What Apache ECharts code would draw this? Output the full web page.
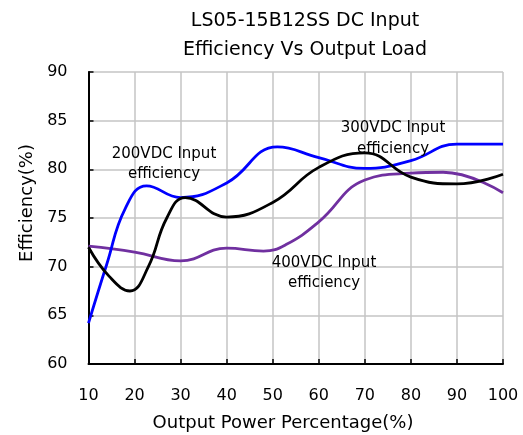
<!DOCTYPE html>
<html>
<head>
<meta charset="utf-8">
<script src="https://cdn.jsdelivr.net/npm/echarts@6/dist/echarts.min.js"></script>
<style>html,body{margin:0;padding:0;background:#fff}#c{width:523px;height:435px}</style>
</head>
<body>
<div id="c"></div>
<script>
// Output power percentage (x) and efficiency (%) values
const x200 = [10, 14, 18, 22.6, 30, 40, 51, 60, 70, 80, 90, 100];
const eff200 = [64.2, 70.3, 76.0, 78.3, 77.1, 78.6, 82.3, 81.2, 80.1, 80.9, 82.6, 82.6];

const x300 = [10, 14.5, 19, 23, 27, 31, 40, 50, 60, 70, 80, 90, 100];
const eff300 = [72.0, 69.0, 67.5, 70.0, 75.0, 77.1, 75.1, 76.6, 80.2, 81.7, 79.2, 78.5, 79.5];

const x400 = [10, 20, 30, 40, 48, 53, 60, 70, 80, 87, 100];
const eff400 = [72.1, 71.5, 70.6, 71.9, 71.6, 72.3, 74.6, 78.9, 79.6, 79.7, 77.6];

const xTicks = [10, 20, 30, 40, 50, 60, 70, 80, 90, 100];
const yTicks = [60, 65, 70, 75, 80, 85, 90];

const titleLines = ['LS05-15B12SS DC Input', 'Efficiency Vs Output Load'];
const xName = 'Output Power Percentage(%)';
const yName = 'Efficiency(%)';
const seriesNames = ['200VDC Input efficiency', '300VDC Input efficiency', '400VDC Input efficiency'];

const F = 'DejaVu Sans';
const pair = (xs, ys) => xs.map((v, i) => [v, ys[i]]);

const chart = echarts.init(document.getElementById('c'));
chart.setOption({
  animation: false,
  backgroundColor: '#fff',
  title: {
    text: titleLines.join('\n'),
    left: 300, top: 2, textAlign: 'center',
    textStyle: { fontFamily: F, fontSize: 19, fontWeight: 'normal', color: '#000', lineHeight: 29 }
  },
  grid: { left: 88.5, right: 20, top: 72, bottom: 71 },
  xAxis: {
    type: 'value', min: xTicks[0], max: xTicks[xTicks.length - 1], interval: 10,
    axisLine: { lineStyle: { color: '#000', width: 2 } },
    axisTick: { inside: true, length: 5, lineStyle: { color: '#000', width: 1.5 } },
    axisLabel: { margin: 24, fontFamily: F, fontSize: 16, color: '#000' },
    splitLine: { show: true, lineStyle: { color: '#c4c4c4', width: 1.5 } }
  },
  yAxis: {
    type: 'value', min: yTicks[0], max: yTicks[yTicks.length - 1], interval: 5,
    axisLine: { show: true, lineStyle: { color: '#000', width: 2 } },
    axisTick: { show: true, inside: true, length: 5, lineStyle: { color: '#000', width: 1.5 } },
    axisLabel: { margin: 21, fontFamily: F, fontSize: 16, color: '#000' },
    splitLine: { show: true, lineStyle: { color: '#c4c4c4', width: 1.5 } }
  },
  series: [
    { name: seriesNames[0], type: 'line', data: pair(x200, eff200), smooth: 0.45, symbol: 'none',
      lineStyle: { color: '#0000ff', width: 2.8 }, z: 3 },
    { name: seriesNames[1], type: 'line', data: pair(x300, eff300), smooth: 0.45, symbol: 'none',
      lineStyle: { color: '#000000', width: 2.8 }, z: 4 },
    { name: seriesNames[2], type: 'line', data: pair(x400, eff400), smooth: 0.45, symbol: 'none',
      lineStyle: { color: '#7030a0', width: 2.8 }, z: 2 }
  ],
  graphic: [
    { type: 'text', x: 283, y: 423, style: { text: xName, font: '18px "DejaVu Sans"', fill: '#000', align: 'center', verticalAlign: 'middle' } },
    { type: 'text', x: 27, y: 203, rotation: Math.PI / 2, style: { text: yName, font: '18px "DejaVu Sans"', fill: '#000', align: 'center', verticalAlign: 'middle' } },
    { type: 'text', x: 164, y: 164, z: 10, style: { text: '200VDC Input\nefficiency', font: '15px "DejaVu Sans"', lineHeight: 20, fill: '#000', align: 'center', verticalAlign: 'middle' } },
    { type: 'text', x: 393, y: 139, z: 10, style: { text: '300VDC Input\nefficiency', font: '15px "DejaVu Sans"', lineHeight: 21, fill: '#000', align: 'center', verticalAlign: 'middle' } },
    { type: 'text', x: 324, y: 273, z: 10, style: { text: '400VDC Input\nefficiency', font: '15px "DejaVu Sans"', lineHeight: 20, fill: '#000', align: 'center', verticalAlign: 'middle' } }
  ]
});
</script>
</body>
</html>
